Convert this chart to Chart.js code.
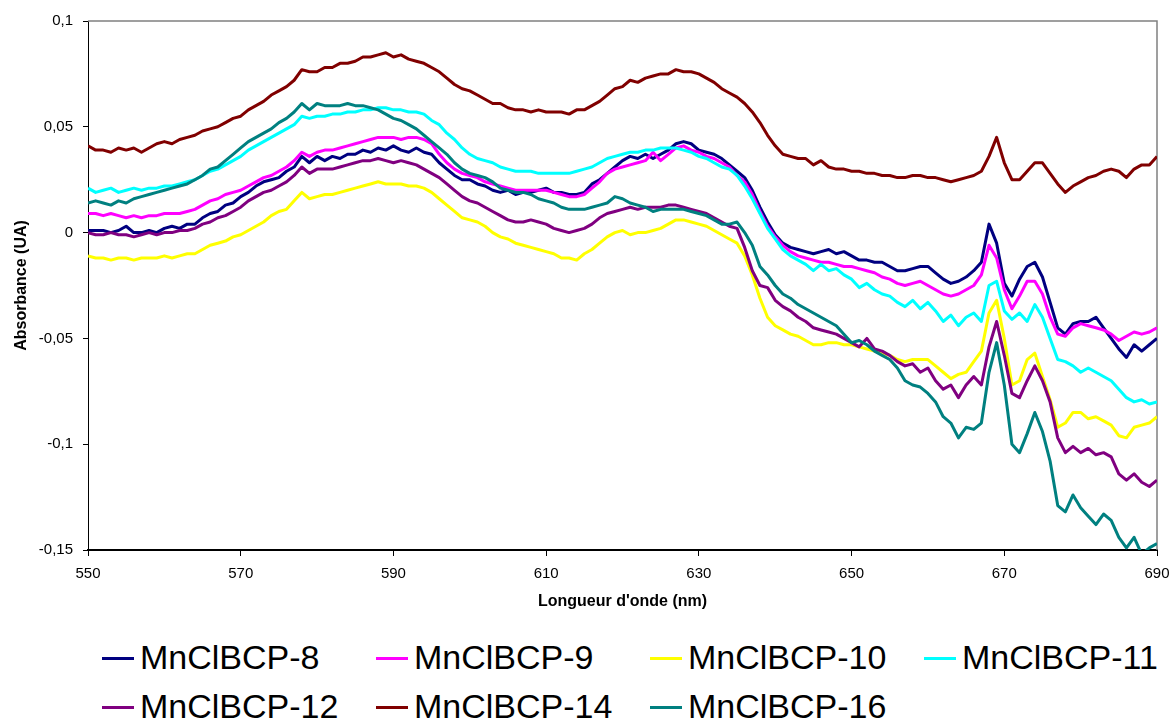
<!DOCTYPE html>
<html>
<head>
<meta charset="utf-8">
<script src="https://cdn.jsdelivr.net/npm/chart.js@4.4.1/dist/chart.umd.min.js"></script>
<style>
    html, body { margin: 0; padding: 0; background: #fff; }
    #wrap { position: relative; width: 1174px; height: 720px; overflow: hidden; font-family: Arial, "Liberation Sans", sans-serif; }
    #myChart { position: absolute; left: 0; top: 0; }
    .item { position: absolute; height: 40px; line-height: 40px; font-size: 34px; white-space: nowrap; color: #000; }
    .item .mark { display: inline-block; width: 32px; height: 3px; vertical-align: middle; margin-right: 6px; position: relative; top: -2px; }
</style>
</head>
<body>
<div id="wrap">
    <canvas id="myChart" width="1174" height="620"></canvas>
    <div id="legend"></div>
</div>
<script>
var wavelengths = [
    550, 551, 552, 553, 554, 555, 556, 557, 558, 559,
    560, 561, 562, 563, 564, 565, 566, 567, 568, 569,
    570, 571, 572, 573, 574, 575, 576, 577, 578, 579,
    580, 581, 582, 583, 584, 585, 586, 587, 588, 589,
    590, 591, 592, 593, 594, 595, 596, 597, 598, 599,
    600, 601, 602, 603, 604, 605, 606, 607, 608, 609,
    610, 611, 612, 613, 614, 615, 616, 617, 618, 619,
    620, 621, 622, 623, 624, 625, 626, 627, 628, 629,
    630, 631, 632, 633, 634, 635, 636, 637, 638, 639,
    640, 641, 642, 643, 644, 645, 646, 647, 648, 649,
    650, 651, 652, 653, 654, 655, 656, 657, 658, 659,
    660, 661, 662, 663, 664, 665, 666, 667, 668, 669,
    670, 671, 672, 673, 674, 675, 676, 677, 678, 679,
    680, 681, 682, 683, 684, 685, 686, 687, 688, 689,
    690
]

var seriesNames = ["MnClBCP-8", "MnClBCP-9", "MnClBCP-10", "MnClBCP-11", "MnClBCP-12", "MnClBCP-14", "MnClBCP-16"]
var seriesColors = ["#000080", "#FF00FF", "#FFFF00", "#00FFFF", "#800080", "#800000", "#008080"]

var abs8 = [
    0.001, 0.001, 0.001, 0.000, 0.001, 0.003, 0.000, 0.000, 0.001, 0.000,
    0.002, 0.003, 0.002, 0.004, 0.004, 0.007, 0.009, 0.010, 0.013, 0.014,
    0.017, 0.019, 0.022, 0.024, 0.025, 0.026, 0.029, 0.031, 0.036, 0.033,
    0.036, 0.034, 0.036, 0.035, 0.037, 0.037, 0.039, 0.038, 0.040, 0.039,
    0.041, 0.039, 0.038, 0.040, 0.038, 0.037, 0.033, 0.030, 0.027, 0.025,
    0.025, 0.023, 0.022, 0.020, 0.019, 0.020, 0.018, 0.019, 0.019, 0.020,
    0.021, 0.019, 0.019, 0.018, 0.018, 0.019, 0.023, 0.025, 0.028, 0.031,
    0.034, 0.036, 0.035, 0.037, 0.035, 0.037, 0.039, 0.042, 0.043, 0.042,
    0.039, 0.038, 0.037, 0.035, 0.032, 0.029, 0.026, 0.020, 0.012, 0.005,
    -0.001, -0.005, -0.007, -0.008, -0.009, -0.010, -0.009, -0.008, -0.010, -0.009,
    -0.011, -0.013, -0.013, -0.014, -0.014, -0.016, -0.018, -0.018, -0.017, -0.016,
    -0.016, -0.019, -0.022, -0.024, -0.023, -0.021, -0.018, -0.014, 0.004, -0.005,
    -0.024, -0.030, -0.022, -0.016, -0.014, -0.021, -0.033, -0.045, -0.048, -0.043,
    -0.042, -0.042, -0.040, -0.045, -0.050, -0.055, -0.059, -0.053, -0.056, -0.053,
    -0.050
]

var abs9 = [
    0.009, 0.009, 0.008, 0.009, 0.008, 0.007, 0.008, 0.007, 0.008, 0.008,
    0.009, 0.009, 0.009, 0.010, 0.011, 0.013, 0.015, 0.016, 0.018, 0.019,
    0.020, 0.022, 0.024, 0.026, 0.027, 0.029, 0.031, 0.034, 0.038, 0.036,
    0.038, 0.039, 0.039, 0.040, 0.041, 0.042, 0.043, 0.044, 0.045, 0.045,
    0.045, 0.044, 0.045, 0.045, 0.044, 0.042, 0.037, 0.033, 0.030, 0.028,
    0.027, 0.026, 0.024, 0.023, 0.022, 0.021, 0.020, 0.020, 0.020, 0.020,
    0.020, 0.019, 0.018, 0.017, 0.017, 0.018, 0.021, 0.024, 0.028, 0.030,
    0.031, 0.032, 0.033, 0.034, 0.038, 0.034, 0.037, 0.040, 0.041, 0.039,
    0.038, 0.036, 0.035, 0.033, 0.031, 0.027, 0.024, 0.018, 0.010, 0.003,
    -0.002, -0.006, -0.009, -0.011, -0.012, -0.013, -0.014, -0.014, -0.015, -0.016,
    -0.016, -0.017, -0.018, -0.019, -0.021, -0.022, -0.024, -0.025, -0.024, -0.023,
    -0.025, -0.027, -0.029, -0.030, -0.029, -0.027, -0.025, -0.020, -0.006, -0.012,
    -0.027, -0.036, -0.030, -0.023, -0.023, -0.029, -0.040, -0.048, -0.049, -0.045,
    -0.043, -0.044, -0.045, -0.046, -0.048, -0.051, -0.049, -0.047, -0.048, -0.047,
    -0.045
]

var abs10 = [
    -0.011, -0.012, -0.012, -0.013, -0.012, -0.012, -0.013, -0.012, -0.012, -0.012,
    -0.011, -0.012, -0.011, -0.010, -0.010, -0.008, -0.006, -0.005, -0.004, -0.002,
    -0.001, 0.001, 0.003, 0.005, 0.008, 0.010, 0.011, 0.015, 0.019, 0.016,
    0.017, 0.018, 0.018, 0.019, 0.020, 0.021, 0.022, 0.023, 0.024, 0.023,
    0.023, 0.023, 0.022, 0.022, 0.021, 0.019, 0.016, 0.013, 0.010, 0.007,
    0.006, 0.005, 0.003, 0.000, -0.002, -0.003, -0.005, -0.006, -0.007, -0.008,
    -0.009, -0.010, -0.012, -0.012, -0.013, -0.010, -0.008, -0.005, -0.002, 0.000,
    0.001, -0.001, 0.000, 0.000, 0.001, 0.002, 0.004, 0.006, 0.006, 0.005,
    0.004, 0.003, 0.001, -0.001, -0.003, -0.005, -0.011, -0.020, -0.031, -0.040,
    -0.044, -0.046, -0.048, -0.049, -0.051, -0.053, -0.053, -0.052, -0.052, -0.053,
    -0.053, -0.054, -0.055, -0.056, -0.057, -0.058, -0.060, -0.061, -0.060, -0.060,
    -0.060, -0.063, -0.066, -0.069, -0.067, -0.066, -0.061, -0.056, -0.038, -0.032,
    -0.050, -0.072, -0.070, -0.060, -0.057, -0.068, -0.079, -0.092, -0.090, -0.085,
    -0.085, -0.088, -0.087, -0.089, -0.091, -0.096, -0.097, -0.092, -0.091, -0.090,
    -0.087
]

var abs11 = [
    0.021, 0.019, 0.020, 0.021, 0.019, 0.020, 0.021, 0.020, 0.021, 0.021,
    0.022, 0.022, 0.023, 0.024, 0.025, 0.027, 0.029, 0.030, 0.032, 0.034,
    0.036, 0.039, 0.041, 0.043, 0.045, 0.047, 0.049, 0.051, 0.055, 0.054,
    0.055, 0.055, 0.056, 0.056, 0.057, 0.057, 0.058, 0.058, 0.059, 0.059,
    0.058, 0.058, 0.057, 0.057, 0.056, 0.053, 0.051, 0.047, 0.044, 0.040,
    0.037, 0.035, 0.034, 0.033, 0.031, 0.030, 0.029, 0.029, 0.029, 0.028,
    0.028, 0.028, 0.028, 0.028, 0.029, 0.030, 0.031, 0.033, 0.035, 0.036,
    0.037, 0.038, 0.038, 0.039, 0.039, 0.040, 0.040, 0.040, 0.039, 0.038,
    0.036, 0.035, 0.033, 0.031, 0.030, 0.027, 0.022, 0.016, 0.009, 0.002,
    -0.003, -0.008, -0.011, -0.013, -0.015, -0.018, -0.015, -0.018, -0.017, -0.020,
    -0.022, -0.026, -0.024, -0.027, -0.029, -0.030, -0.033, -0.035, -0.032, -0.036,
    -0.033, -0.037, -0.042, -0.039, -0.044, -0.040, -0.038, -0.042, -0.025, -0.023,
    -0.037, -0.041, -0.038, -0.042, -0.034, -0.040, -0.050, -0.060, -0.061, -0.063,
    -0.066, -0.064, -0.066, -0.068, -0.070, -0.074, -0.078, -0.080, -0.079, -0.081,
    -0.080
]

var abs12 = [
    0.000, -0.001, -0.001, 0.000, -0.001, -0.001, -0.002, -0.001, 0.000, -0.001,
    0.000, 0.000, 0.001, 0.001, 0.002, 0.004, 0.005, 0.007, 0.008, 0.010,
    0.012, 0.015, 0.017, 0.019, 0.020, 0.022, 0.024, 0.027, 0.031, 0.028,
    0.030, 0.030, 0.030, 0.031, 0.032, 0.033, 0.034, 0.034, 0.035, 0.034,
    0.033, 0.034, 0.033, 0.032, 0.030, 0.028, 0.026, 0.023, 0.020, 0.017,
    0.015, 0.014, 0.012, 0.010, 0.008, 0.006, 0.005, 0.005, 0.006, 0.005,
    0.004, 0.002, 0.001, 0.000, 0.001, 0.002, 0.004, 0.007, 0.009, 0.010,
    0.011, 0.012, 0.011, 0.012, 0.012, 0.012, 0.013, 0.013, 0.012, 0.011,
    0.010, 0.009, 0.007, 0.005, 0.003, 0.002, -0.007, -0.018, -0.025, -0.026,
    -0.032, -0.035, -0.037, -0.040, -0.042, -0.045, -0.046, -0.047, -0.048, -0.050,
    -0.052, -0.054, -0.050, -0.055, -0.056, -0.058, -0.061, -0.063, -0.062, -0.066,
    -0.064, -0.070, -0.074, -0.072, -0.078, -0.072, -0.068, -0.072, -0.054, -0.042,
    -0.058, -0.076, -0.078, -0.070, -0.063, -0.070, -0.080, -0.097, -0.104, -0.101,
    -0.104, -0.102, -0.105, -0.104, -0.106, -0.114, -0.117, -0.114, -0.118, -0.120,
    -0.117
]

var abs14 = [
    0.041, 0.039, 0.039, 0.038, 0.040, 0.039, 0.040, 0.038, 0.040, 0.042,
    0.043, 0.042, 0.044, 0.045, 0.046, 0.048, 0.049, 0.050, 0.052, 0.054,
    0.055, 0.058, 0.060, 0.062, 0.065, 0.067, 0.069, 0.072, 0.077, 0.076,
    0.076, 0.078, 0.078, 0.080, 0.080, 0.081, 0.083, 0.083, 0.084, 0.085,
    0.083, 0.084, 0.082, 0.081, 0.080, 0.078, 0.076, 0.073, 0.070, 0.068,
    0.067, 0.065, 0.063, 0.061, 0.061, 0.059, 0.058, 0.058, 0.057, 0.058,
    0.057, 0.057, 0.057, 0.056, 0.058, 0.058, 0.060, 0.062, 0.065, 0.068,
    0.069, 0.072, 0.071, 0.073, 0.074, 0.075, 0.075, 0.077, 0.076, 0.076,
    0.075, 0.073, 0.071, 0.068, 0.066, 0.064, 0.061, 0.057, 0.052, 0.046,
    0.041, 0.037, 0.036, 0.035, 0.035, 0.032, 0.034, 0.031, 0.030, 0.030,
    0.029, 0.029, 0.028, 0.028, 0.027, 0.027, 0.026, 0.026, 0.027, 0.027,
    0.026, 0.026, 0.025, 0.024, 0.025, 0.026, 0.027, 0.029, 0.036, 0.045,
    0.033, 0.025, 0.025, 0.029, 0.033, 0.033, 0.028, 0.023, 0.019, 0.022,
    0.024, 0.026, 0.027, 0.029, 0.030, 0.029, 0.026, 0.030, 0.032, 0.032,
    0.036
]

var abs16 = [
    0.014, 0.015, 0.014, 0.013, 0.015, 0.014, 0.016, 0.017, 0.018, 0.019,
    0.020, 0.021, 0.022, 0.023, 0.025, 0.027, 0.030, 0.031, 0.034, 0.037,
    0.040, 0.043, 0.045, 0.047, 0.049, 0.052, 0.054, 0.057, 0.061, 0.058,
    0.061, 0.060, 0.060, 0.060, 0.061, 0.060, 0.060, 0.059, 0.058, 0.056,
    0.054, 0.053, 0.051, 0.049, 0.046, 0.043, 0.040, 0.037, 0.033, 0.030,
    0.028, 0.027, 0.026, 0.024, 0.021, 0.020, 0.019, 0.019, 0.018, 0.016,
    0.015, 0.014, 0.012, 0.011, 0.011, 0.011, 0.012, 0.013, 0.014, 0.017,
    0.016, 0.014, 0.013, 0.012, 0.010, 0.011, 0.011, 0.011, 0.011, 0.010,
    0.009, 0.008, 0.006, 0.004, 0.004, 0.005, 0.000, -0.006, -0.016, -0.020,
    -0.025, -0.029, -0.031, -0.034, -0.036, -0.038, -0.040, -0.042, -0.044, -0.048,
    -0.052, -0.051, -0.053, -0.056, -0.058, -0.060, -0.064, -0.070, -0.072, -0.073,
    -0.076, -0.080, -0.087, -0.090, -0.097, -0.092, -0.093, -0.090, -0.066, -0.052,
    -0.072, -0.100, -0.104, -0.095, -0.085, -0.094, -0.108, -0.129, -0.132, -0.124,
    -0.130, -0.134, -0.138, -0.133, -0.136, -0.144, -0.149, -0.144, -0.152, -0.149,
    -0.147
]

var seriesValues = [abs8, abs9, abs10, abs11, abs12, abs14, abs16]

var xTicks = [550, 570, 590, 610, 630, 650, 670, 690]
var yTicks = [-0.15, -0.1, -0.05, 0, 0.05, 0.1]

function toPoints(values) {
    var pts = []
    for (var i = 0; i < wavelengths.length; i++) {
        pts.push({ x: wavelengths[i], y: values[i] })
    }
    return pts
}

var datasets = []
for (var s = 0; s < seriesNames.length; s++) {
    datasets.push({
        label: seriesNames[s],
        data: toPoints(seriesValues[s]),
        borderColor: seriesColors[s],
        backgroundColor: seriesColors[s],
        borderWidth: 3,
        pointRadius: 0,
        tension: 0,
        borderJoinStyle: "round",
        clip: 0,
        order: seriesNames.length - s   // last series on top, like the original
    })
}

// gray frame on top and right of plot area
var framePlugin = {
    id: "frame",
    beforeDatasetsDraw: function (chart) {
        var a = chart.chartArea
        var ctx = chart.ctx
        ctx.save()
        ctx.strokeStyle = "#808080"
        ctx.lineWidth = 1.5
        ctx.beginPath()
        ctx.moveTo(a.left, a.top)
        ctx.lineTo(a.right, a.top)
        ctx.lineTo(a.right, a.bottom)
        ctx.stroke()
        ctx.restore()
    }
}

function commaLabel(v) {
    return String(Math.round(v * 1000) / 1000).replace(".", ",")
}

new Chart("myChart", {
    type: "line",
    data: { datasets: datasets },
    plugins: [framePlugin],
    options: {
        responsive: false,
        animation: false,
        layout: { padding: { top: 21, right: 17, bottom: 8, left: 0 } },
        plugins: {
            legend: { display: false },
            tooltip: { enabled: false }
        },
        scales: {
            x: {
                type: "linear",
                min: 550,
                max: 690,
                afterBuildTicks: function (scale) {
                    scale.ticks = xTicks.map(function (v) { return { value: v } })
                },
                afterFit: function (scale) {
                    scale.height = 62
                    scale.paddingLeft = 0
                    scale.paddingRight = 0
                },
                grid: { drawOnChartArea: false, drawTicks: true, tickLength: 6, color: "#000" },
                border: { display: true, color: "#000", width: 2 },
                ticks: {
                    padding: 9,
                    color: "#000",
                    maxRotation: 0,
                    font: { family: "Arial, 'Liberation Sans'", size: 15 },
                    callback: function (v) { return v }
                },
                title: {
                    display: true,
                    text: "Longueur d'onde (nm)",
                    color: "#000",
                    padding: { top: 0, bottom: 1 },
                    font: { family: "Arial, 'Liberation Sans'", size: 16, weight: "bold" }
                }
            },
            y: {
                min: -0.15,
                max: 0.1,
                afterBuildTicks: function (scale) {
                    scale.ticks = yTicks.map(function (v) { return { value: v } })
                },
                afterFit: function (scale) {
                    scale.width = 88
                    scale.paddingTop = 0
                    scale.paddingBottom = 0
                },
                grid: { drawOnChartArea: false, drawTicks: true, tickLength: 5, color: "#000" },
                border: { display: true, color: "#000", width: 1 },
                ticks: {
                    padding: 10,
                    color: "#000",
                    font: { family: "Arial, 'Liberation Sans'", size: 15 },
                    callback: function (v) { return commaLabel(v) }
                },
                title: {
                    display: true,
                    text: "Absorbance (UA)",
                    color: "#000",
                    padding: { top: 12, bottom: 0 },
                    font: { family: "Arial, 'Liberation Sans'", size: 16, weight: "bold" }
                }
            }
        }
    }
})

buildLegend()

function buildLegend() {
    var legend = document.getElementById("legend")
    for (var i = 0; i < seriesNames.length; i++) {
        var col = i % 4
        var row = Math.floor(i / 4)
        var item = `<div class="item" style="left:${102 + col * 274}px; top:${637 + row * 49}px">
                        <span class="mark" style="background:${seriesColors[i]}"></span>${seriesNames[i]}
                    </div>`
        legend.innerHTML += item
    }
}
</script>
</body>
</html>
